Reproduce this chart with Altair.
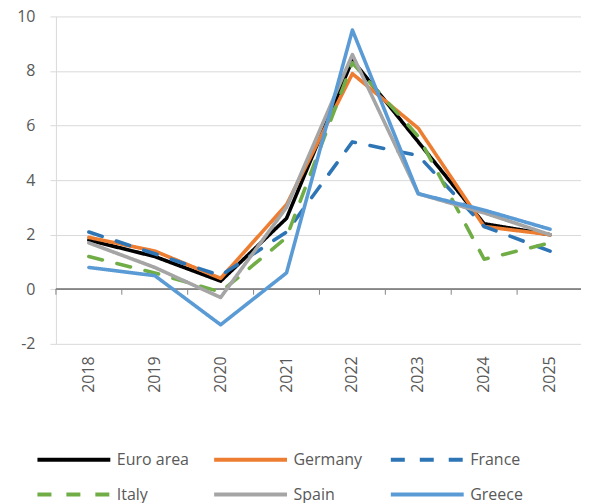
import altair as alt
import pandas as pd

years = ["2018", "2019", "2020", "2021", "2022", "2023", "2024", "2025"]
series = ["Euro area", "Germany", "France", "Italy", "Spain", "Greece"]
euro_area = [1.8, 1.2, 0.3, 2.6, 8.4, 5.4, 2.4, 2.0]
germany = [1.9, 1.4, 0.4, 3.1, 7.9, 5.9, 2.3, 2.0]
france = [2.1, 1.3, 0.5, 2.1, 5.4, 4.9, 2.3, 1.4]
italy = [1.2, 0.6, -0.1, 1.9, 8.3, 5.6, 1.1, 1.7]
spain = [1.7, 0.8, -0.3, 3.0, 8.6, 3.5, 2.8, 2.0]
greece = [0.8, 0.5, -1.3, 0.6, 9.5, 3.5, 2.9, 2.2]
colors = ["#000000", "#ED7D31", "#2E75B6", "#70AD47", "#A5A5A5", "#5B9BD5"]
dashes = [[1, 0], [1, 0], [14, 15], [14, 15], [1, 0], [1, 0]]
y_ticks = [-2, 0, 2, 4, 6, 8, 10]

values = [euro_area, germany, france, italy, spain, greece]
rows = []
for i, (name, vals) in enumerate(zip(series, values)):
    for yr, v in zip(years, vals):
        rows.append({"series": name, "year": yr, "value": v, "k": i})
df = pd.DataFrame(rows)
df_years = pd.DataFrame({"year": years})

FONT = "Open Sans"
xscale = alt.Scale(type="band", domain=years, paddingInner=0, paddingOuter=0)
yscale = alt.Scale(domain=[-2, 10], nice=False)

lines = alt.Chart(df).mark_line(strokeWidth=3.6, strokeJoin="round", strokeCap="round").encode(
    x=alt.X("year:N", bandPosition=0.5, scale=xscale,
            axis=alt.Axis(title=None, labelAngle=270, ticks=False, domain=False,
                          grid=False, labelPadding=12, labelFontSize=16,
                          labelColor="#595959", labelFont=FONT)),
    y=alt.Y("value:Q", scale=yscale,
            axis=alt.Axis(title=None, values=y_ticks, grid=True, gridColor="#d9d9d9",
                          domain=True, domainColor="#d9d9d9", ticks=True,
                          tickColor="#d9d9d9", tickSize=6, labelPadding=15,
                          labelFontSize=16, labelColor="#595959", labelFont=FONT,
                          labelExpr="datum.value + ''")),
    color=alt.Color("series:N", scale=alt.Scale(domain=series, range=colors),
                    legend=alt.Legend(title=None, orient="none", legendX=6, legendY=432,
                                      columns=3, direction="horizontal",
                                      symbolType="M-3.65,0H3.65", symbolSize=400,
                                      symbolStrokeWidth=4, labelFontSize=16,
                                      labelFont=FONT, labelColor="#595959",
                                      labelOffset=31, columnPadding=16, rowPadding=15,
                                      gridAlign="all", padding=0)),
    strokeDash=alt.StrokeDash("series:N", scale=alt.Scale(domain=series, range=dashes),
                              legend=None),
    order="k:Q",
    detail="series:N",
)

zero = alt.Chart(df_years).mark_rule(color="#868686", strokeWidth=1).encode(
    y=alt.datum(0, scale=yscale)
)

ticks = alt.Chart(df_years).mark_rule(color="#868686", strokeWidth=1).encode(
    x=alt.X("year:N", bandPosition=0, scale=xscale),
    y=alt.datum(0),
    y2=alt.datum(-0.2),
)

chart = alt.layer(zero, ticks, lines).properties(
    width=528, height=328,
    padding={"left": 8, "top": 0, "right": -3, "bottom": 0},
).configure_view(stroke=None)

chart.save("out.html", embed_options={"renderer": "svg", "actions": False})
